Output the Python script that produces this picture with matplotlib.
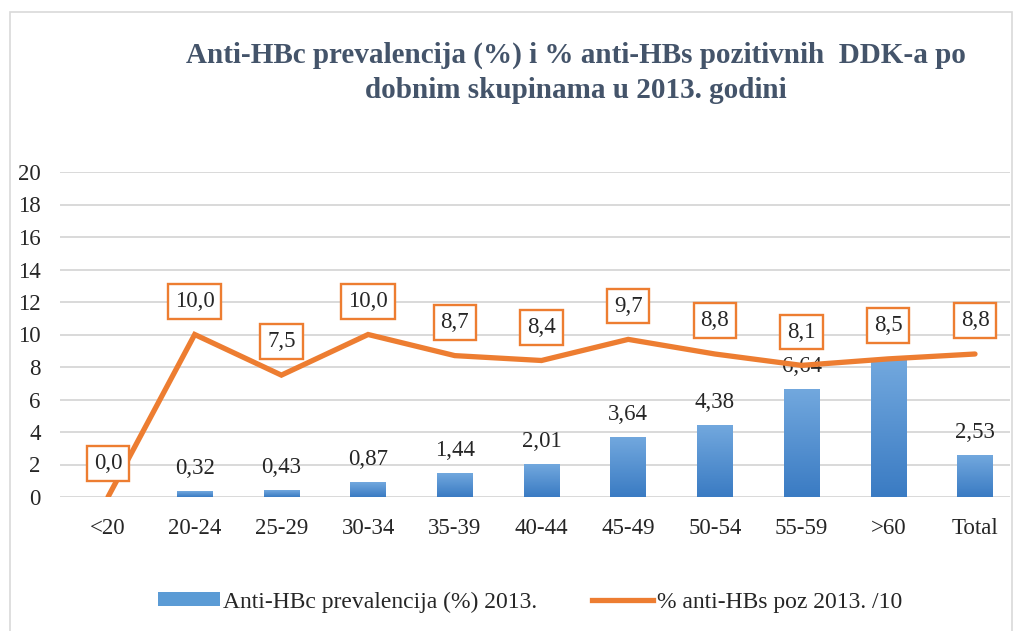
import numpy as np
import matplotlib.pyplot as plt
from matplotlib.colors import LinearSegmentedColormap
from matplotlib.patches import Patch
from matplotlib.lines import Line2D

plt.rcParams['font.family'] = ['Liberation Serif', 'DejaVu Serif']

categories = ['<20', '20-24', '25-29', '30-34', '35-39', '40-44', '45-49',
              '50-54', '55-59', '>60', 'Total']
anti_hbc = [0.0, 0.32, 0.43, 0.87, 1.44, 2.01, 3.64, 4.38, 6.64, 8.4, 2.53]
# bar labels as printed (the >60 one sits under the line label)
hbc_labels = ['', '0,32', '0,43', '0,87', '1,44', '2,01', '3,64', '4,38',
              '6,64', '', '2,53']
anti_hbs_10 = [0.0, 10.0, 7.5, 10.0, 8.7, 8.4, 9.7, 8.8, 8.1, 8.5, 8.8]

W, H = 1017, 631
fig = plt.figure(figsize=(W / 100, H / 100), dpi=100)
fig.patch.set_facecolor('white')

# outer chart frame
fig.add_artist(plt.Rectangle((10 / W, -0.01), 1002 / W, (H - 12) / H + 0.01,
                             transform=fig.transFigure, fill=False,
                             edgecolor='#d9d9d9', lw=1.2))

ax = fig.add_axes([60 / W, 134 / H, 950 / W, 325 / H])
x = np.arange(len(categories))
xlim = ((60 - 108) / 86.7, (1010 - 108) / 86.7)

# gradient-filled bars
bar_cmap = LinearSegmentedColormap.from_list('bars', ['#3a7bc3', '#72a8de'])
grad = np.linspace(0, 1, 256).reshape(-1, 1)
bw = 0.41
for xi, v in zip(x, anti_hbc):
    if v <= 0:
        continue
    ax.imshow(grad, extent=[xi - bw / 2, xi + bw / 2, 0, v], origin='lower',
              cmap=bar_cmap, aspect='auto', zorder=2)
ax.set_xlim(*xlim)
ax.set_ylim(0, 20)

for xi, v, t in zip(x, anti_hbc, hbc_labels):
    if t:
        ax.annotate(t, (xi, v), xytext=(0, 9), textcoords='offset points',
                    ha='center', va='bottom', fontsize=16.5, color='#262626')

ax.plot(x, anti_hbs_10, color='#ed7d31', lw=3.8, solid_capstyle='round',
        solid_joinstyle='miter', zorder=3)

for xi, v in zip(x, anti_hbs_10):
    ax.annotate(f'{v:.1f}'.replace('.', ','), (xi, v), xytext=(0, 24),
                textcoords='offset points', ha='center', va='center',
                fontsize=16.5, color='#262626', zorder=4,
                bbox=dict(boxstyle='square,pad=0.3', fc='white',
                          ec='#ed7d31', lw=1.7))

ax.set_yticks(range(0, 21, 2))
ax.yaxis.grid(True, color='#d9d9d9', lw=1.4)
ax.set_axisbelow(True)
for s in ax.spines.values():
    s.set_visible(False)
ax.set_xticks(x)
ax.set_xticklabels(categories)
ax.tick_params(axis='both', length=0, labelsize=16.5, colors='#262626')
ax.tick_params(axis='x', pad=15)
ax.tick_params(axis='y', pad=14)

fig.text(576 / W, 1 - 55 / H, 'Anti-HBc prevalencija (%) i % anti-HBs pozitivnih  DDK-a po',
         ha='center', va='center', fontsize=21, fontweight='bold', color='#44546a')
fig.text(576 / W, 1 - 90 / H, 'dobnim skupinama u 2013. godini',
         ha='center', va='center', fontsize=21, fontweight='bold', color='#44546a')

handles = [Patch(facecolor='#5b9bd5'),
           Line2D([], [], color='#ed7d31', lw=3.8)]
labels = ['Anti-HBc prevalencija (%) 2013.', '% anti-HBs poz 2013. /10']
fig.legend(handles, labels, loc='center', bbox_to_anchor=(530 / W, 1 - 602 / H),
           ncol=2, frameon=False, fontsize=17, handlelength=2.6,
           handleheight=0.5, handletextpad=0.15, columnspacing=2.3,
           labelcolor='#262626')

fig.savefig('out.png', dpi=100, facecolor='white')
